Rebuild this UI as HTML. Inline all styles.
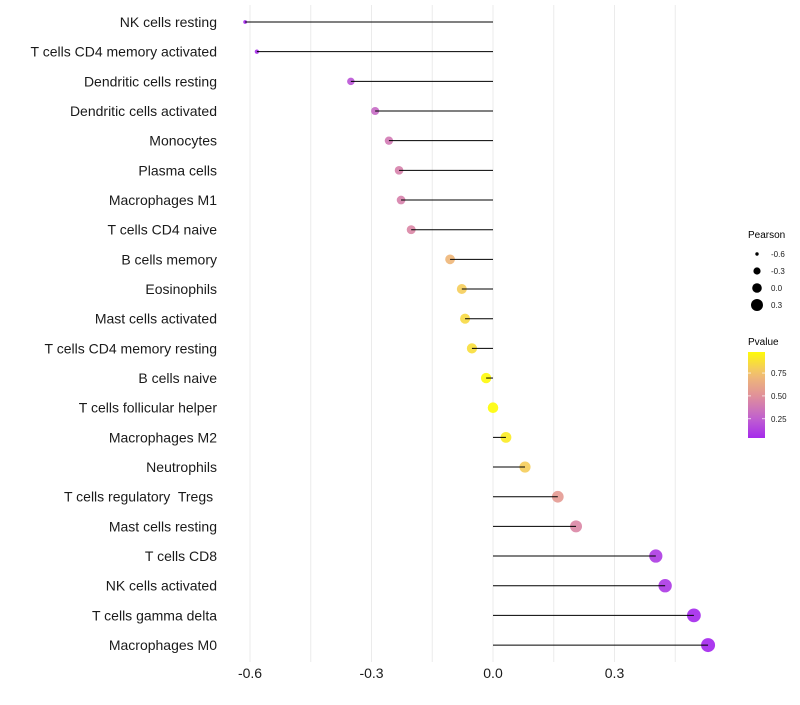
<!DOCTYPE html>
<html><head><meta charset="utf-8"><style>
body{margin:0;background:#fff;font-family:"Liberation Sans",sans-serif}
text{white-space:pre}
</style></head><body>
<svg id="c" width="800" height="700" xmlns="http://www.w3.org/2000/svg"></svg>
<script>
const categories=["NK cells resting","T cells CD4 memory activated","Dendritic cells resting","Dendritic cells activated","Monocytes","Plasma cells","Macrophages M1","T cells CD4 naive","B cells memory","Eosinophils","Mast cells activated","T cells CD4 memory resting","B cells naive","T cells follicular helper","Macrophages M2","Neutrophils","T cells regulatory  Tregs ","Mast cells resting","T cells CD8","NK cells activated","T cells gamma delta","Macrophages M0"];
const pearson=[-0.612,-0.583,-0.351,-0.291,-0.257,-0.232,-0.227,-0.202,-0.106,-0.077,-0.069,-0.052,-0.017,0.0,0.032,0.079,0.160,0.205,0.402,0.425,0.496,0.531];
const pvalue=[0.02,0.05,0.2,0.3,0.38,0.42,0.42,0.45,0.7,0.8,0.85,0.87,0.98,0.99,0.92,0.8,0.55,0.45,0.1,0.09,0.03,0.02];
const xTicks=[-0.6,-0.3,0.0,0.3];
const xTickLabels=["-0.6","-0.3","0.0","0.3"];
const sizeLegend=[-0.6,-0.3,0.0,0.3];
const pvalTicks=[0.25,0.5,0.75];

const NS="http://www.w3.org/2000/svg";
const svg=document.getElementById('c');
function el(t,a,p){const e=document.createElementNS(NS,t);for(const k in a)e.setAttribute(k,a[k]);(p||svg).appendChild(e);return e;}
const X=v=>493+v*405;
const Y=i=>22+i*29.67;
const R=v=>Math.sqrt(Math.max(1,4+(v+0.6)*39.8));
const stops=[[0,[160,32,240]],[0.25,[192,96,208]],[0.5,[224,144,154]],[0.75,[242,192,112]],[1,[255,255,0]]];
function col(p){for(let i=1;i<stops.length;i++){if(p<=stops[i][0]){const a=stops[i-1],b=stops[i],t=(p-a[0])/(b[0]-a[0]);return 'rgb('+a[1].map((c,j)=>Math.round(c+(b[1][j]-c)*t)).join(',')+')';}}return 'rgb(255,255,0)';}

for(let k=0;k<=7;k++){const v=-0.6+k*0.15;const g=el('line',{x1:X(v),x2:X(v),y1:5,y2:662,stroke:'#ebebeb','stroke-width':1});

}
categories.forEach((c,i)=>{
  const d=el('circle',{cx:X(pearson[i]),cy:Y(i),r:R(pearson[i]),fill:col(pvalue[i]),'fill-opacity':0.9});
  
  
  const l=el('line',{x1:X(0),x2:X(pearson[i]),y1:Y(i),y2:Y(i),stroke:'#000','stroke-width':1});
  
  
  const t=el('text',{x:217,y:Y(i)+5,'text-anchor':'end','font-size':14,fill:'#1a1a1a'});
  t.textContent=c;
  
  
});
xTicks.forEach((v,i)=>{const t=el('text',{x:X(v),y:678,'text-anchor':'middle','font-size':14,fill:'#1a1a1a'});t.textContent=xTickLabels[i];

});
const lt=el('text',{x:748,y:238,'font-size':10,fill:'#000'});lt.textContent='Pearson';


const lr=[1.7,3.6,4.8,6];
sizeLegend.forEach((v,i)=>{const yy=254+i*17;
  const c=el('circle',{cx:757,cy:yy,r:lr[i],fill:'#000'});
  
  
  const t=el('text',{x:771,y:yy+3,'font-size':8,fill:'#1a1a1a'});t.textContent=v.toFixed(1);
  
  });
const pt=el('text',{x:748,y:345,'font-size':10,fill:'#000'});pt.textContent='Pvalue';


const defs=el('defs',{});const lg=el('linearGradient',{id:'g',x1:0,y1:1,x2:0,y2:0},defs);
for(let p=0;p<=1.001;p+=0.1){el('stop',{offset:p,'stop-color':col(0.04+p*0.94)},lg);}
const bar=el('rect',{x:748,y:352,width:17,height:86,fill:'url(#g)'});


pvalTicks.forEach(p=>{const yy=438-(p-0.04)/0.94*86;
  el('line',{x1:748,x2:751,y1:yy,y2:yy,stroke:'#fff','stroke-width':0.7});
  el('line',{x1:762,x2:765,y1:yy,y2:yy,stroke:'#fff','stroke-width':0.7});
  const t=el('text',{x:771,y:yy+3,'font-size':8,fill:'#1a1a1a'});t.textContent=p.toFixed(2);
  
  });
</script>
</body></html>
